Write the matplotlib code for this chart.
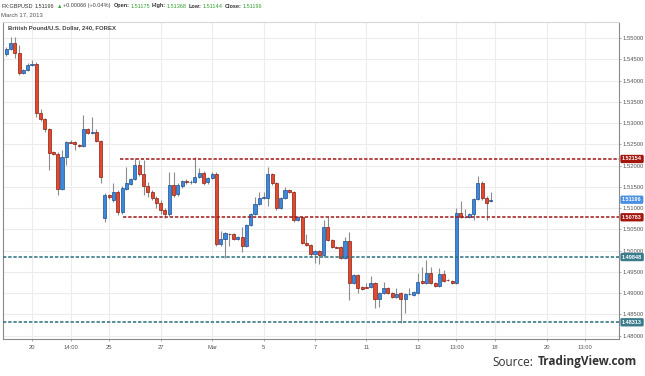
import numpy as np
import matplotlib.pyplot as plt
from matplotlib.transforms import blended_transform_factory

plt.rcParams['font.family'] = ['Liberation Sans', 'DejaVu Sans']

# GBPUSD 4h candles, Feb 19 - Mar 15 2013
opens = [1.5462, 1.5474, 1.5488, 1.5465, 1.5418, 1.5425, 1.5437, 1.5439, 1.5324, 1.5309,
         1.5286, 1.5232, 1.5227, 1.5145, 1.5220, 1.5255, 1.5255, 1.5249, 1.5246, 1.5286,
         1.5277, 1.5279, 1.5258, 1.5077, 1.5131, 1.5119, 1.5138, 1.5091, 1.5145, 1.5157,
         1.5168, 1.5201, 1.5180, 1.5152, 1.5138, 1.5124, 1.5112, 1.5096, 1.5086, 1.5154,
         1.5133, 1.5152, 1.5164, 1.5161, 1.5161, 1.5173, 1.5182, 1.5161, 1.5171, 1.5180,
         1.5016, 1.5027, 1.5040, 1.5039, 1.5027, 1.5032, 1.5011, 1.5060, 1.5086, 1.5110,
         1.5124, 1.5124, 1.5180, 1.5159, 1.5100, 1.5124, 1.5143, 1.5138, 1.5072, 1.5079,
         1.5018, 1.5013, 1.4992, 1.4999, 1.4989, 1.5055, 1.5025, 1.5008, 1.5008, 1.4983,
         1.5022, 1.4924, 1.4943, 1.4914, 1.4914, 1.4914, 1.4924, 1.4886, 1.4900, 1.4912,
         1.4900, 1.4891, 1.4900, 1.4886, 1.4898, 1.4896, 1.4900, 1.4928, 1.4924, 1.4947,
         1.4924, 1.4917, 1.4945, 1.4931, 1.4928, 1.4924, 1.5088, 1.5079, 1.5079, 1.5086,
         1.5121, 1.5159, 1.5124, 1.51175]
highs = [1.5479, 1.5502, 1.5502, 1.5483, 1.5427, 1.5441, 1.5448, 1.5444, 1.5333, 1.5312,
         1.5288, 1.5234, 1.5232, 1.5237, 1.5258, 1.5260, 1.5258, 1.5251, 1.5319, 1.5288,
         1.5314, 1.5286, 1.5260, 1.5135, 1.5133, 1.5159, 1.5143, 1.5152, 1.5197, 1.5171,
         1.5218, 1.5213, 1.5213, 1.5161, 1.5143, 1.5128, 1.5119, 1.5100, 1.5185, 1.5185,
         1.5159, 1.5166, 1.5168, 1.5166, 1.5220, 1.5194, 1.5187, 1.5173, 1.5185, 1.5185,
         1.5046, 1.5043, 1.5041, 1.5041, 1.5034, 1.5055, 1.5062, 1.5088, 1.5126, 1.5138,
         1.5138, 1.5197, 1.5182, 1.5161, 1.5126, 1.5150, 1.5145, 1.5140, 1.5081, 1.5081,
         1.5039, 1.5016, 1.5001, 1.5001, 1.5072, 1.5079, 1.5027, 1.5011, 1.5011, 1.5032,
         1.5043, 1.4945, 1.4945, 1.4917, 1.4924, 1.4940, 1.4926, 1.4903, 1.4926, 1.4914,
         1.4903, 1.4912, 1.4903, 1.4900, 1.4912, 1.4905, 1.4947, 1.4961, 1.4978, 1.4961,
         1.4926, 1.4959, 1.4954, 1.4933, 1.4931, 1.5100, 1.5117, 1.5098, 1.5088, 1.5124,
         1.5175, 1.5164, 1.5128, 1.51368]
lows = [1.5458, 1.5472, 1.5453, 1.5413, 1.5415, 1.5423, 1.5434, 1.5314, 1.5305, 1.5279,
        1.5190, 1.5225, 1.5131, 1.5142, 1.5201, 1.5253, 1.5237, 1.5244, 1.5244, 1.5274,
        1.5274, 1.5255, 1.5159, 1.5067, 1.5121, 1.5114, 1.5084, 1.5086, 1.5142, 1.5154,
        1.5166, 1.5175, 1.5131, 1.5126, 1.5119, 1.5100, 1.5086, 1.5077, 1.5082, 1.5126,
        1.5128, 1.5147, 1.5157, 1.5157, 1.5159, 1.5171, 1.5154, 1.5157, 1.5168, 1.5011,
        1.5011, 1.4983, 1.5011, 1.5025, 1.5025, 1.4997, 1.5008, 1.5058, 1.5084, 1.5107,
        1.5121, 1.5105, 1.5154, 1.5096, 1.5098, 1.5121, 1.5135, 1.5067, 1.5070, 1.5016,
        1.5011, 1.4986, 1.4971, 1.4968, 1.4986, 1.5022, 1.5006, 1.5006, 1.4980, 1.4980,
        1.4884, 1.4921, 1.4900, 1.4907, 1.4912, 1.4912, 1.4865, 1.4867, 1.4898, 1.4898,
        1.4888, 1.4888, 1.4830, 1.4853, 1.4896, 1.4893, 1.4898, 1.4921, 1.4921, 1.4921,
        1.4914, 1.4914, 1.4926, 1.4928, 1.4921, 1.4921, 1.5077, 1.5077, 1.5077, 1.5072,
        1.5119, 1.5119, 1.5072, 1.51144]
closes = [1.5474, 1.5488, 1.5465, 1.5418, 1.5425, 1.5437, 1.5439, 1.5324, 1.5309, 1.5286,
          1.5230, 1.5227, 1.5145, 1.5220, 1.5255, 1.5254, 1.5251, 1.5246, 1.5286, 1.5277,
          1.5279, 1.5258, 1.5173, 1.5131, 1.5126, 1.5138, 1.5091, 1.5147, 1.5159, 1.5168,
          1.5201, 1.5180, 1.5152, 1.5138, 1.5124, 1.5112, 1.5096, 1.5086, 1.5154, 1.5131,
          1.5154, 1.5164, 1.5161, 1.5162, 1.5173, 1.5182, 1.5159, 1.5171, 1.5180, 1.5016,
          1.5027, 1.5041, 1.5039, 1.5027, 1.5032, 1.5011, 1.5060, 1.5086, 1.5110, 1.5124,
          1.5125, 1.5180, 1.5159, 1.5100, 1.5124, 1.5143, 1.5138, 1.5072, 1.5079, 1.5018,
          1.5013, 1.4992, 1.4999, 1.4989, 1.5055, 1.5025, 1.5008, 1.5007, 1.4983, 1.5022,
          1.4924, 1.4943, 1.4912, 1.4910, 1.4913, 1.4924, 1.4886, 1.4900, 1.4912, 1.4900,
          1.4891, 1.4898, 1.4886, 1.4898, 1.4899, 1.4903, 1.4926, 1.4924, 1.4947, 1.4924,
          1.4917, 1.4945, 1.4928, 1.4930, 1.4924, 1.5088, 1.5079, 1.5080, 1.5086, 1.5121,
          1.5159, 1.5124, 1.5112, 1.51196]

tick_pos = [6, 15, 24, 36, 48, 60, 72, 84, 96, 105, 114, 126, 135]
tick_labels = ['20', '14:00', '25', '27', 'Mar', '5', '7', '11', '13', '13:00', '18', '20', '13:00']

resistance = 1.52154
support = 1.50783
lower_levels = [1.49848, 1.48313]
last_price = 1.51196

UP, UP_EDGE = '#3d87dc', '#1d4f8f'
DN, DN_EDGE = '#e04a2f', '#8e1c10'

fig = plt.figure(figsize=(6.45, 3.76), dpi=100)
ax = fig.add_axes([3 / 645, 1 - 339 / 376, 616 / 645, 317 / 376])

o = np.array(opens)
h = np.array(highs)
l = np.array(lows)
c = np.array(closes)
x = np.arange(len(c))
up = c >= o

ax.vlines(x, l, h, color='#8c8c8c', lw=0.8, zorder=2)
ax.bar(x, np.maximum(np.abs(c - o), 0.00004), bottom=np.minimum(o, c), width=0.72,
       color=np.where(up, UP, DN), edgecolor=np.where(up, UP_EDGE, DN_EDGE),
       linewidth=0.5, zorder=3)

xmin, xmax = -0.77, 142.9
ax.set_xlim(xmin, xmax)
ax.set_ylim(1.4792, 1.55376)

# horizontal levels
ax.hlines(resistance, 26.5, xmax, color='#a01818', lw=1.1, linestyles=(0, (2.2, 1.2)), zorder=4)
ax.hlines(support, 27.2, xmax, color='#a01818', lw=1.1, linestyles=(0, (2.2, 1.2)), zorder=4)
for lv in lower_levels:
    ax.hlines(lv, xmin, xmax, color='#2a6e7e', lw=1.1, linestyles=(0, (2.2, 1.2)), zorder=4)

ax.set_xticks(tick_pos)
ax.set_xticklabels(tick_labels)
ax.set_yticks(np.arange(1.48, 1.5501, 0.005))
ax.yaxis.tick_right()
ax.yaxis.set_major_formatter(plt.FormatStrFormatter('%.5f'))
ax.tick_params(axis='both', labelsize=4.2, colors='#999999', labelcolor='#555555', length=1.6, width=0.6)
ax.tick_params(axis='x', pad=3)
ax.tick_params(axis='y', pad=1)
ax.grid(color='#ececec', lw=0.8, zorder=0)
ax.set_axisbelow(True)
for side in ['left', 'right', 'bottom']:
    ax.spines[side].set_color('#8a8a8a')
    ax.spines[side].set_linewidth(0.8)
ax.spines['top'].set_color('#d6d6d6')
ax.spines['top'].set_linewidth(0.8)

# price flags on the right axis
tr = blended_transform_factory(ax.transAxes, ax.transData)
flags = [(resistance, '#a3150c'), (support, '#a3150c'),
         (lower_levels[0], '#3a7c8c'), (lower_levels[1], '#3a7c8c'), (last_price, '#4a8fe2')]
for val, col in flags:
    ax.annotate('%.5f' % val, xy=(1.0, val), xycoords=tr, xytext=(2.2, 0), textcoords='offset points',
                ha='left', va='center', fontsize=4, color='white', fontweight='bold',
                bbox=dict(boxstyle='round,pad=0.3,rounding_size=0.25', fc=col, ec='none'),
                annotation_clip=False, zorder=6)

# header
def chain(pieces, x0, y0, size):
    prev = None
    for txt, col, wt, gap in pieces:
        if prev is None:
            prev = ax.annotate(txt, xy=(x0, y0), xycoords='figure fraction', ha='left', va='bottom',
                               fontsize=size, color=col, fontweight=wt, annotation_clip=False)
        else:
            prev = ax.annotate(txt, xy=(1, 0), xycoords=prev, xytext=(gap, 0), textcoords='offset points',
                               ha='left', va='bottom', fontsize=size, color=col, fontweight=wt,
                               annotation_clip=False)

GREEN = '#33a333'
DARK = '#333333'
chain([('FX:GBPUSD', DARK, 'normal', 0), ('1.51196', DARK, 'normal', 1.5), ('\u25b2', GREEN, 'normal', 2.0),
       ('+0.00066 (+0.04%)', '#444444', 'normal', 0.5),
       ('Open:', DARK, 'bold', 2.0), ('1.51175', GREEN, 'normal', 0.8),
       ('High:', DARK, 'bold', 1.2), ('1.51368', GREEN, 'normal', 0.8),
       ('Low:', DARK, 'bold', 1.2), ('1.51144', GREEN, 'normal', 0.8),
       ('Close:', DARK, 'bold', 1.2), ('1.51196', GREEN, 'normal', 0.8)],
      1 / 645, 1 - 8.5 / 376, 4.0)
fig.text(1 / 645, 1 - 14.5 / 376, 'March 17, 2013', fontsize=4.3, color='#555555', va='center', ha='left')
fig.text(8 / 645, 1 - 27.5 / 376, 'British Pound/U.S. Dollar, 240, FOREX', fontsize=4.3,
         color='#444444', fontweight='bold', va='center', ha='left')

# source note
src = fig.text(637 / 645, 1 - 362 / 376, 'TradingView.com', fontsize=8.5, color='#333333',
               fontweight='bold', ha='right', va='center', family=['Open Sans', 'DejaVu Sans'])
ax.annotate('Source:', xy=(0, 0.5), xycoords=src, xytext=(-3, 0), textcoords='offset points',
            ha='right', va='center', fontsize=8.5, color='#333333', family=['Open Sans', 'DejaVu Sans'],
            annotation_clip=False)

fig.savefig('out.png', dpi=100)
